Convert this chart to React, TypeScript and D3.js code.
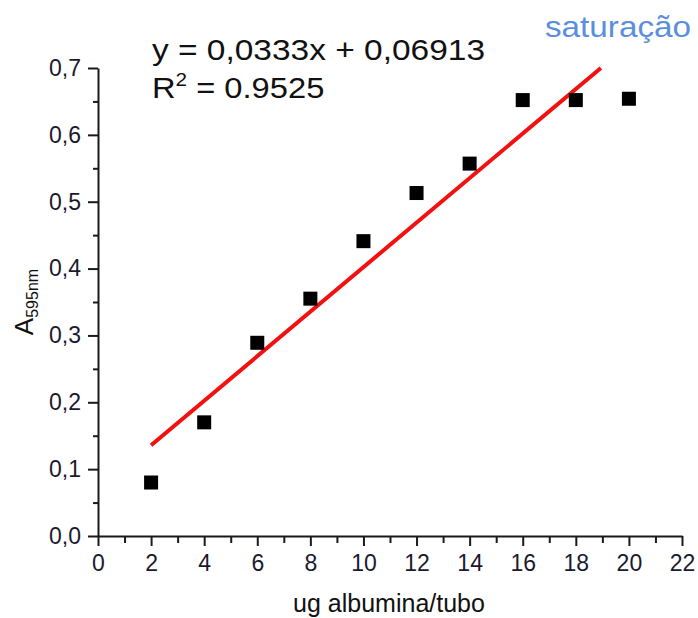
import React, { useEffect, useRef } from "react";
import * as d3 from "d3";

const doses = [2, 4, 6, 8, 10, 12, 14, 16, 18, 20];
const absorbances = [0.08, 0.17, 0.289, 0.355, 0.441, 0.513, 0.557, 0.652, 0.652, 0.654];
const fitSlope = [0.0333];
const fitIntercept = [0.06913];
const xTicks = [0, 2, 4, 6, 8, 10, 12, 14, 16, 18, 20, 22];
const yTicks = [0, 0.1, 0.2, 0.3, 0.4, 0.5, 0.6, 0.7];

const size = { width: 698, height: 618 };
const font = "'Liberation Sans', Arial, sans-serif";

const App = () => {
  const ref = useRef<SVGGElement>(null);

  useEffect(() => {
    const g = d3.select(ref.current);
    g.selectAll("*").remove();

    const x = d3.scaleLinear().domain([0, 22]).range([98, 682]);
    const y = d3.scaleLinear().domain([0, 0.7]).range([536, 68]);
    const comma = (v: number) => d3.format(".1f")(v).replace(".", ",");

    // minor ticks
    g.append("g")
      .attr("transform", "translate(0,536)")
      .call(d3.axisBottom(x).tickValues(d3.range(1, 22, 2)).tickSize(7).tickFormat(() => ""))
      .call(s => s.select(".domain").remove())
      .call(s => s.selectAll("line").attr("stroke", "#1a1a1a").attr("stroke-width", 2));
    g.append("g")
      .attr("transform", "translate(98,0)")
      .call(d3.axisLeft(y).tickValues(d3.range(0.05, 0.7, 0.1)).tickSize(5).tickFormat(() => ""))
      .call(s => s.select(".domain").remove())
      .call(s => s.selectAll("line").attr("stroke", "#1a1a1a").attr("stroke-width", 2));

    // major axes
    const xAxis = g.append("g")
      .attr("transform", "translate(0,536)")
      .call(d3.axisBottom(x).tickValues(xTicks).tickSize(10).tickSizeOuter(0).tickPadding(9));
    const yAxis = g.append("g")
      .attr("transform", "translate(98,0)")
      .call(d3.axisLeft(y).tickValues(yTicks).tickSize(10).tickSizeOuter(0).tickPadding(7).tickFormat(d => comma(+d)));

    [xAxis, yAxis].forEach(a => {
      a.select(".domain").attr("stroke", "#1a1a1a").attr("stroke-width", 2);
      a.selectAll("line").attr("stroke", "#1a1a1a").attr("stroke-width", 2);
      a.selectAll("text")
        .attr("fill", "#1a1a2e")
        .style("font-family", font)
        .style("font-size", "23px");
    });

    // fit line, stops at top of plot
    const m = fitSlope[0];
    const b = fitIntercept[0];
    const xEnd = (0.7 - b) / m;
    g.append("line")
      .attr("x1", x(doses[0]))
      .attr("y1", y(m * doses[0] + b))
      .attr("x2", x(xEnd))
      .attr("y2", y(m * xEnd + b))
      .attr("stroke", "#f21010")
      .attr("stroke-width", 4);

    g.selectAll("rect.pt")
      .data(doses)
      .enter()
      .append("rect")
      .attr("class", "pt")
      .attr("x", d => x(d) - 7)
      .attr("y", (d, i) => y(absorbances[i]) - 7)
      .attr("width", 14)
      .attr("height", 14)
      .attr("fill", "#000");
  }, []);

  return (
    <svg
      width={size.width}
      height={size.height}
      style={{ position: "absolute", left: 0, top: 0, background: "#fff" }}
    >
      <g ref={ref} />
      <text x={152} y={60} fontFamily={font} fontSize={30} fill="#111" textLength={333} lengthAdjust="spacingAndGlyphs">
        y = 0,0333x + 0,06913
      </text>
      <text transform="translate(152,98) scale(1.09,1)" fontFamily={font} fontSize={30} fill="#111">
        R<tspan fontSize={19} dy={-12}>2</tspan>
        <tspan dy={12}> = 0.9525</tspan>
      </text>
      <text x={545} y={37} fontFamily={font} fontSize={30} fill="#5b8fdc" textLength={146} lengthAdjust="spacingAndGlyphs">
        saturação
      </text>
      <text x={389} y={612} textAnchor="middle" fontFamily={font} fontSize={25} fill="#111">
        ug albumina/tubo
      </text>
      <text transform="translate(33,302) rotate(-90)" textAnchor="middle" fontFamily={font} fontSize={26} fill="#111">
        A<tspan fontSize={16} dy={5}>595nm</tspan>
      </text>
    </svg>
  );
};

export default App;
